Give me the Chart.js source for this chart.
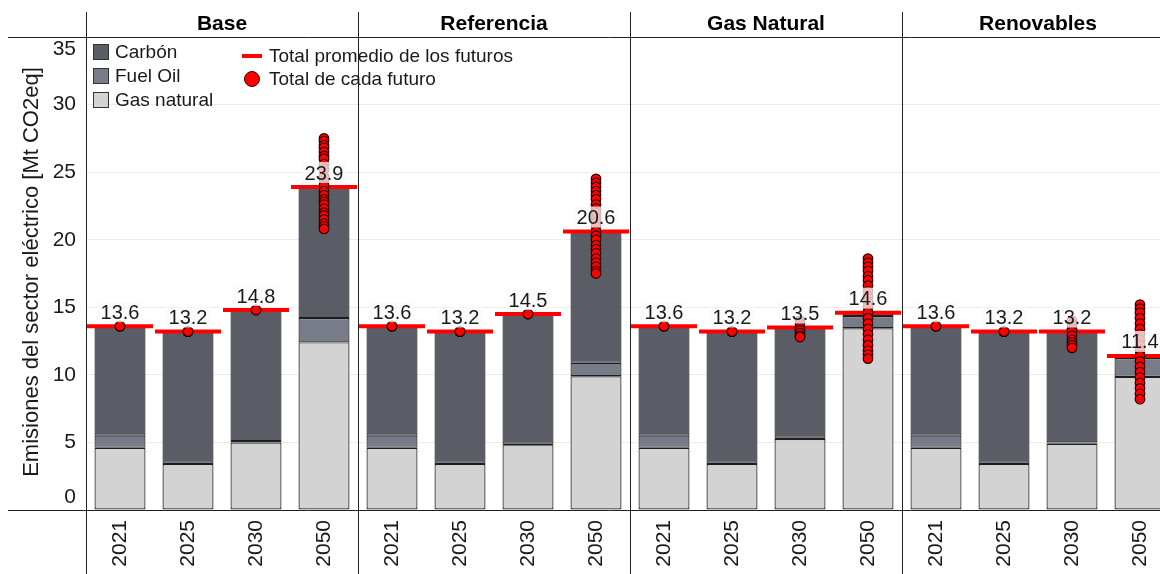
<!DOCTYPE html>
<html>
<head>
<meta charset="utf-8">
<script src="https://cdn.jsdelivr.net/npm/chart.js"></script>
<style>
  html, body { margin: 0; padding: 0; background: #fff; overflow: hidden; }
  #wrap { width: 1211px; height: 574px; }
  canvas { display: block; }
</style>
</head>
<body>
<div id="wrap"><canvas id="chart" width="1211" height="574"></canvas></div>
<script>
// Escenarios y años
const escenarios = ['Base', 'Referencia', 'Gas Natural', 'Renovables'];
const anios = ['2021', '2025', '2030', '2050'];

// Emisiones por fuente [Mt CO2eq], 4 años por escenario
const gasNatural = [4.6, 3.4, 5.0, 12.4,  4.6, 3.4, 4.8, 9.9,  4.6, 3.4, 5.25, 13.45,  4.6, 3.4, 4.9, 9.85];
const fuelOil    = [0.9, 0.1, 0.1, 1.8,   0.9, 0.1, 0.1, 1.0,  0.9, 0.1, 0.1, 0.9,    0.9, 0.1, 0.1, 1.4];
const carbon     = [8.1, 9.7, 9.7, 9.7,   8.1, 9.7, 9.6, 9.7,  8.1, 9.7, 8.15, 0.25,  8.1, 9.7, 8.2, 0.15];

// Total promedio de los futuros
const totalPromedio = [13.6, 13.2, 14.8, 23.9,  13.6, 13.2, 14.5, 20.6,  13.6, 13.2, 13.5, 14.6,  13.6, 13.2, 13.2, 11.4];

// Total de cada futuro
const futuros2021 = [13.6, 13.6, 13.6];
const futuros2025 = [13.2, 13.2, 13.2];
const futurosBase2030 = [14.8, 14.8];
const futurosBase2050 = [27.5, 27.3, 27.0, 26.8, 26.5, 26.2, 26.0, 25.6, 25.2, 24.7, 24.3, 24.0, 23.6, 23.3, 23.0, 22.8, 22.6, 22.3, 22.0, 21.8, 21.5, 21.2, 21.0, 20.8];
const futurosRef2030 = [14.5, 14.5];
const futurosRef2050 = [24.5, 24.2, 23.9, 23.6, 23.3, 23.0, 22.6, 22.3, 22.0, 21.6, 21.3, 21.0, 20.6, 20.3, 20.0, 19.6, 19.3, 19.0, 18.6, 18.3, 18.0, 17.7, 17.5];
const futurosGas2030 = [14.0, 13.8, 13.5, 13.3, 13.1, 12.9, 12.8];
const futurosGas2050 = [18.6, 18.3, 18.0, 17.7, 17.3, 17.0, 16.6, 16.2, 15.8, 15.4, 15.0, 14.6, 14.2, 13.8, 13.4, 13.0, 12.6, 12.2, 11.8, 11.5, 11.2];
const futurosRen2030 = [14.0, 13.7, 13.4, 13.2, 12.9, 12.6, 12.4, 12.2, 12.0];
const futurosRen2050 = [15.2, 14.9, 14.6, 14.2, 13.8, 13.4, 13.0, 12.6, 12.2, 11.8, 11.4, 11.0, 10.6, 10.2, 9.8, 9.4, 9.0, 8.6, 8.2];

const totalFuturos = [
  futuros2021, futuros2025, futurosBase2030, futurosBase2050,
  futuros2021, futuros2025, futurosRef2030, futurosRef2050,
  futuros2021, futuros2025, futurosGas2030, futurosGas2050,
  futuros2021, futuros2025, futurosRen2030, futurosRen2050
];

const yTicks = [0, 5, 10, 15, 20, 25, 30, 35];

// etiquetas únicas para la escala de categorías
const categorias = [];
escenarios.forEach(e => anios.forEach(a => categorias.push(e + ' ' + a)));

const puntos = [];
totalFuturos.forEach((lista, i) => lista.forEach(v => puntos.push({ x: categorias[i], y: v })));

const FONT = '"Liberation Sans", Arial, Helvetica, sans-serif';
const TXT = '#1a1a1a';
const COL_CARBON = '#5a5d66';
const COL_FUEL = '#777c88';
const COL_GAS = '#d3d3d3';

Chart.defaults.font.family = FONT;
Chart.defaults.color = TXT;

const marco = {
  id: 'marco',
  afterDatasetsDraw(chart) {
    const ctx = chart.ctx, xs = chart.scales.x, ys = chart.scales.y;
    ctx.save();
    ctx.font = '20px ' + FONT;
    ctx.textAlign = 'center';
    ctx.textBaseline = 'middle';
    totalPromedio.forEach((v, i) => {
      const txt = v.toFixed(1);
      const px = xs.getPixelForValue(i);
      const py = ys.getPixelForValue(v) - 14;
      const w = ctx.measureText(txt).width + 6;
      ctx.fillStyle = 'rgba(250,250,250,0.75)';
      ctx.fillRect(px - w / 2, py - 11, w, 21);
      ctx.fillStyle = TXT;
      ctx.fillText(txt, px, py + 1);
    });
    ctx.restore();
  },
  afterDraw(chart) {
    const ctx = chart.ctx, a = chart.chartArea;
    ctx.save();
    // líneas de paneles
    ctx.strokeStyle = '#222';
    ctx.lineWidth = 1;
    const ancho = (a.right - a.left) / escenarios.length;
    ctx.beginPath();
    for (let k = 0; k < escenarios.length; k++) {
      const x = Math.round(a.left + k * ancho) + 0.5;
      ctx.moveTo(x, 12); ctx.lineTo(x, 574);
    }
    ctx.moveTo(8, Math.round(a.top) + 0.5); ctx.lineTo(1211, Math.round(a.top) + 0.5);
    ctx.moveTo(8, Math.round(a.bottom) + 0.5); ctx.lineTo(1211, Math.round(a.bottom) + 0.5);
    ctx.stroke();

    // títulos de paneles
    ctx.fillStyle = '#000';
    ctx.font = 'bold 21px ' + FONT;
    ctx.textAlign = 'center';
    ctx.textBaseline = 'middle';
    escenarios.forEach((e, k) => ctx.fillText(e, a.left + (k + 0.5) * ancho, 24));

    // título eje y
    ctx.save();
    ctx.translate(32, 272);
    ctx.rotate(-Math.PI / 2);
    ctx.fillStyle = TXT;
    ctx.font = '22px ' + FONT;
    ctx.fillText('Emisiones del sector eléctrico [Mt CO2eq]', 0, 0);
    ctx.restore();

    // leyenda
    ctx.font = '19px ' + FONT;
    ctx.textAlign = 'left';
    const items = [['Carbón', COL_CARBON, 52], ['Fuel Oil', COL_FUEL, 76], ['Gas natural', COL_GAS, 100]];
    items.forEach(([t, c, y]) => {
      ctx.fillStyle = c;
      ctx.fillRect(93.5, y - 7.5, 15, 15);
      ctx.strokeStyle = '#333';
      ctx.strokeRect(93.5, y - 7.5, 15, 15);
      ctx.fillStyle = TXT;
      ctx.fillText(t, 115, y + 1);
    });
    ctx.strokeStyle = '#ff0000';
    ctx.lineWidth = 4;
    ctx.beginPath(); ctx.moveTo(242, 56); ctx.lineTo(262, 56); ctx.stroke();
    ctx.fillStyle = '#ff0000';
    ctx.strokeStyle = '#3a0000';
    ctx.lineWidth = 1;
    ctx.beginPath(); ctx.arc(252, 79, 7.5, 0, Math.PI * 2); ctx.fill(); ctx.stroke();
    ctx.fillStyle = TXT;
    ctx.fillText('Total promedio de los futuros', 269, 57);
    ctx.fillText('Total de cada futuro', 269, 80);
    ctx.restore();
  }
};

new Chart(document.getElementById('chart').getContext('2d'), {
  data: {
    labels: categorias,
    datasets: [
      {
        type: 'line', label: 'Total de cada futuro', data: puntos, order: 0,
        showLine: false, pointRadius: 4.8, pointBackgroundColor: '#ff0000',
        pointBorderColor: '#2a0000', pointBorderWidth: 1.2, stack: 'futuros'
      },
      {
        type: 'line', label: 'Total promedio de los futuros', data: totalPromedio, order: 1,
        showLine: false, pointStyle: 'line', pointRadius: 33, pointBorderWidth: 4,
        pointBorderColor: '#ff0000', stack: 'promedio', clip: false
      },
      { type: 'bar', label: 'Gas natural', data: gasNatural, backgroundColor: COL_GAS, order: 2, stack: 'fuentes' },
      { type: 'bar', label: 'Fuel Oil', data: fuelOil, backgroundColor: COL_FUEL, order: 2, stack: 'fuentes' },
      { type: 'bar', label: 'Carbón', data: carbon, backgroundColor: COL_CARBON, order: 2, stack: 'fuentes' }
    ]
  },
  options: {
    responsive: false,
    animation: false,
    events: [],
    layout: { padding: { top: 37, left: 0, right: 0, bottom: 0 } },
    datasets: {
      bar: { barPercentage: 0.75, categoryPercentage: 1, borderColor: '#1e1e1e', borderWidth: 1.2, borderSkipped: false }
    },
    plugins: { legend: { display: false }, tooltip: { enabled: false } },
    scales: {
      x: {
        stacked: true,
        grid: { display: false },
        border: { display: false },
        ticks: {
          minRotation: 90, maxRotation: 90, padding: 2, autoSkip: false,
          font: { size: 21 }, color: TXT,
          callback: (v, i) => anios[i % anios.length]
        },
        afterFit: s => { s.height = 64; s.paddingLeft = 0; s.paddingRight = 0; }
      },
      y: {
        stacked: true,
        min: 0, max: 35,
        afterBuildTicks: s => { s.ticks = yTicks.map(v => ({ value: v })); },
        grid: {
          color: c => (c.tick && (c.tick.value === 0 || c.tick.value === 35)) ? 'rgba(0,0,0,0)' : '#ececec',
          drawTicks: false, lineWidth: 1
        },
        border: { display: false },
        ticks: {
          padding: 10, font: { size: 21 }, color: TXT,
          callback: v => v === 0 ? ['0', ''] : (v === 35 ? ['', '35'] : String(v))
        },
        afterFit: s => { s.width = 86; }
      }
    }
  },
  plugins: [marco]
});
</script>
</body>
</html>
